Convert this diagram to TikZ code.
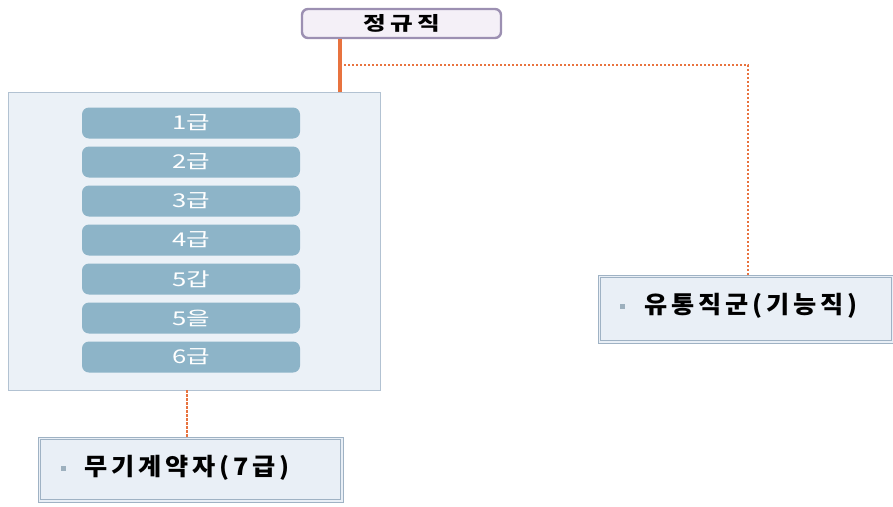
\documentclass[tikz,border=0pt]{standalone}
\usepackage{fontspec}
\newfontfamily\krw{Noto Sans CJK KR}[FakeStretch=1.35]
\newfontfamily\krt{Noto Sans CJK KR}[FakeStretch=1.3,LetterSpace=22]
\newfontfamily\krs{Noto Sans CJK KR}[FakeStretch=1.05,LetterSpace=16]
\definecolor{org}{HTML}{E8733F}
\definecolor{topfill}{HTML}{F4F0F7}
\definecolor{topdraw}{HTML}{9C90B2}
\definecolor{bigfill}{HTML}{EBF1F7}
\definecolor{bigdraw}{HTML}{B2C2D2}
\definecolor{gradefill}{HTML}{8DB4C8}
\definecolor{subfill}{HTML}{E9EFF6}
\definecolor{subdraw}{HTML}{9FB2C4}
\definecolor{bulletc}{HTML}{9DB0BE}
\tikzset{
  gradebox/.style={fill=gradefill, rounded corners=7pt, minimum width=218pt, minimum height=31pt, inner sep=0pt, text=white, font=\krw\fontsize{19}{19}\selectfont},
  subbox/.style={fill=subfill, draw=subdraw, line width=0.7pt, inner sep=0pt},
  sublabel/.style={anchor=west, inner sep=0pt, font=\krs\bfseries\fontsize{24}{24}\selectfont},
  bulletbox/.style={fill=bulletc, minimum size=5pt, inner sep=0pt},
  solidconn/.style={draw=org, line width=3.6pt},
  dotconn/.style={draw=org, line width=2.8pt, dash pattern=on 2.2pt off 1.8pt},
}
\begin{document}
\begin{tikzpicture}[x=1pt,y=-1pt]
\useasboundingbox (0,0) rectangle (893,506);
% top node
\node[draw=topdraw, fill=topfill, line width=2.4pt, rounded corners=6pt, minimum width=199pt, minimum height=29pt, inner sep=0pt, font=\krt\bfseries\fontsize{19}{19}\selectfont] (top) at (401.5,23.5) {정규직};
% big container
\node[fill=bigfill, draw=bigdraw, line width=0.8pt, minimum width=372pt, minimum height=298pt, inner sep=0pt] (big) at (194,241) {};
% grades
\node[gradebox] (g1) at (191,123) {1급};
\node[gradebox] (g2) at (191,162) {2급};
\node[gradebox] (g3) at (191,201) {3급};
\node[gradebox] (g4) at (191,240) {4급};
\node[gradebox] (g5a) at (191,279) {5갑};
\node[gradebox] (g5b) at (191,318) {5을};
\node[gradebox] (g6) at (191,357) {6급};
% sub boxes
\node[subbox, minimum width=305pt, minimum height=65pt] (mu) at (190.5,469.5) {};
\draw[subdraw, line width=0.7pt] ([shift={(3,-3)}]mu.south west) rectangle ([shift={(-3,3)}]mu.north east);
\node[subbox, minimum width=296pt, minimum height=68pt] (yu) at (746,309) {};
\draw[subdraw, line width=0.7pt] ([shift={(3,-3)}]yu.south west) rectangle ([shift={(-3,3)}]yu.north east);
% bullets and labels
\node[bulletbox] (b1) at (63,468) {};
\node[sublabel] (t1) at (84,468) {무기계약자(7급)};
\node[bulletbox] (b2) at (622,306) {};
\node[sublabel] (t2) at (644,306) {유통직군(기능직)};
% connectors
\coordinate (j1) at (340,65);
\coordinate (j2) at (748,65);
\coordinate (j3) at (187,400);
\draw[solidconn] (top.south -| j1) -- (big.north -| j1);
\draw[dotconn] (j1) -- (j2) -- (yu.north -| j2);
\draw[dotconn] (big.south -| j3) -- (mu.north -| j3);
\end{tikzpicture}
\end{document}
